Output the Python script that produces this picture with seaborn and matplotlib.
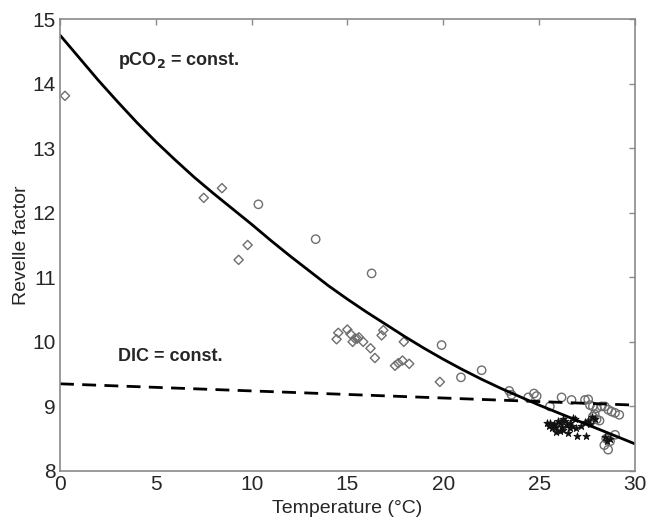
import matplotlib
matplotlib.use("Agg")
import matplotlib.pyplot as plt
import seaborn as sns
import pandas as pd
import numpy as np

# Diamonds (open, gray)
dia_t = [0.26, 7.5, 8.45, 9.79, 9.32, 14.43, 14.52, 14.99, 15.16, 15.27, 15.39, 15.51, 15.6,
         15.82, 16.2, 16.43, 16.78, 16.87, 17.94, 17.48, 17.65, 17.87, 18.22, 19.82]
dia_r = [13.81, 12.23, 12.38, 11.5, 11.27, 10.04, 10.14, 10.19, 10.12, 10.0, 10.05, 10.05, 10.07,
         10.0, 9.9, 9.75, 10.1, 10.18, 10.0, 9.63, 9.67, 9.71, 9.66, 9.38]

# Circles (open, gray)
cir_t = [10.35, 13.34, 16.26, 19.91, 20.92, 22.0, 23.44, 23.56, 24.43, 24.73, 24.87, 25.56,
         26.17, 26.69, 27.39, 27.56, 27.65, 27.8, 28.0, 28.26, 28.43, 28.6, 28.78, 28.96, 29.18,
         27.8, 28.0, 27.65, 28.96, 28.5, 28.6, 28.4, 28.7, 27.9, 28.15]
cir_r = [12.13, 11.59, 11.06, 9.95, 9.45, 9.56, 9.24, 9.18, 9.14, 9.2, 9.16, 9.0,
         9.14, 9.1, 9.1, 9.11, 9.02, 9.0, 8.97, 9.0, 9.0, 8.95, 8.92, 8.9, 8.87,
         8.84, 8.8, 8.75, 8.56, 8.5, 8.33, 8.4, 8.46, 8.88, 8.78]

# Filled black points
dot_t = [25.39, 25.56, 25.77, 25.9, 26.08, 26.26, 26.43, 26.6, 26.78, 26.86, 26.26, 26.52,
         26.08, 26.95, 27.47, 25.9, 25.65, 26.6, 27.2, 27.56, 27.75, 28.43, 28.69, 28.52,
         26.35, 26.7, 25.5, 26.0, 27.65, 27.9, 26.2, 25.8, 26.9, 27.4]
dot_r = [8.74, 8.75, 8.71, 8.68, 8.74, 8.8, 8.71, 8.74, 8.82, 8.8, 8.64, 8.59,
         8.62, 8.54, 8.54, 8.6, 8.66, 8.67, 8.69, 8.77, 8.83, 8.52, 8.49, 8.47,
         8.77, 8.7, 8.7, 8.78, 8.72, 8.8, 8.68, 8.73, 8.66, 8.76]

# pCO2 = const. curve
pco2_t = list(range(0, 31))
pco2_r = [14.75, 14.40, 14.05, 13.72, 13.40, 13.10, 12.82, 12.55, 12.30, 12.06, 11.82,
          11.57, 11.33, 11.10, 10.87, 10.66, 10.46, 10.27, 10.08, 9.90, 9.73,
          9.57, 9.42, 9.28, 9.15, 9.02, 8.90, 8.78, 8.66, 8.54, 8.42]

# DIC = const. line
dic_t = [0, 30]
dic_r = [9.35, 9.02]

x_ticks = [0, 5, 10, 15, 20, 25, 30]
y_ticks = [8, 9, 10, 11, 12, 13, 14, 15]

sns.set_style("white")
plt.rcParams['font.family'] = ['Liberation Sans', 'DejaVu Sans']

fig = plt.figure(figsize=(6.58, 5.25), dpi=100)
ax = fig.add_axes([0.0912, 0.1029, 0.8738, 0.8609])

gray = "#6e6e6e"
sns.lineplot(x=pco2_t, y=pco2_r, ax=ax, color="black", lw=2.0, sort=False)
sns.lineplot(x=dic_t, y=dic_r, ax=ax, color="black", lw=2.0, sort=False)
ax.lines[-1].set_dashes([5, 3])

sns.scatterplot(x=dia_t, y=dia_r, ax=ax, marker="D", s=22, facecolor="none",
                edgecolor=gray, linewidth=1.0)
sns.scatterplot(x=cir_t, y=cir_r, ax=ax, marker="o", s=36, facecolor="none",
                edgecolor=gray, linewidth=1.0)
sns.scatterplot(x=dot_t, y=dot_r, ax=ax, marker="*", s=30, color="#111111",
                edgecolor="#111111", linewidth=0.6)

ax.set_xlim(0, 30)
ax.set_ylim(8, 15)
ax.set_xticks(x_ticks)
ax.set_yticks(y_ticks)
ax.tick_params(direction="in", length=4, top=True, right=True, labelsize=15,
               color="#8a8a8a", width=1, pad=3)
for sp in ax.spines.values():
    sp.set_color("#8a8a8a")
    sp.set_linewidth(1.2)
ax.set_xlabel("Temperature (°C)", fontsize=14, labelpad=4)
ax.set_ylabel("Revelle factor", fontsize=14, labelpad=2)

ax.text(3.0, 14.36, "pCO$_\\mathbf{2}$ = const.", fontsize=13, fontweight="bold",
        va="center", ha="left")
ax.text(3.0, 9.77, "DIC = const.", fontsize=13, fontweight="bold", va="center", ha="left")

fig.savefig("out.png", dpi=100)
